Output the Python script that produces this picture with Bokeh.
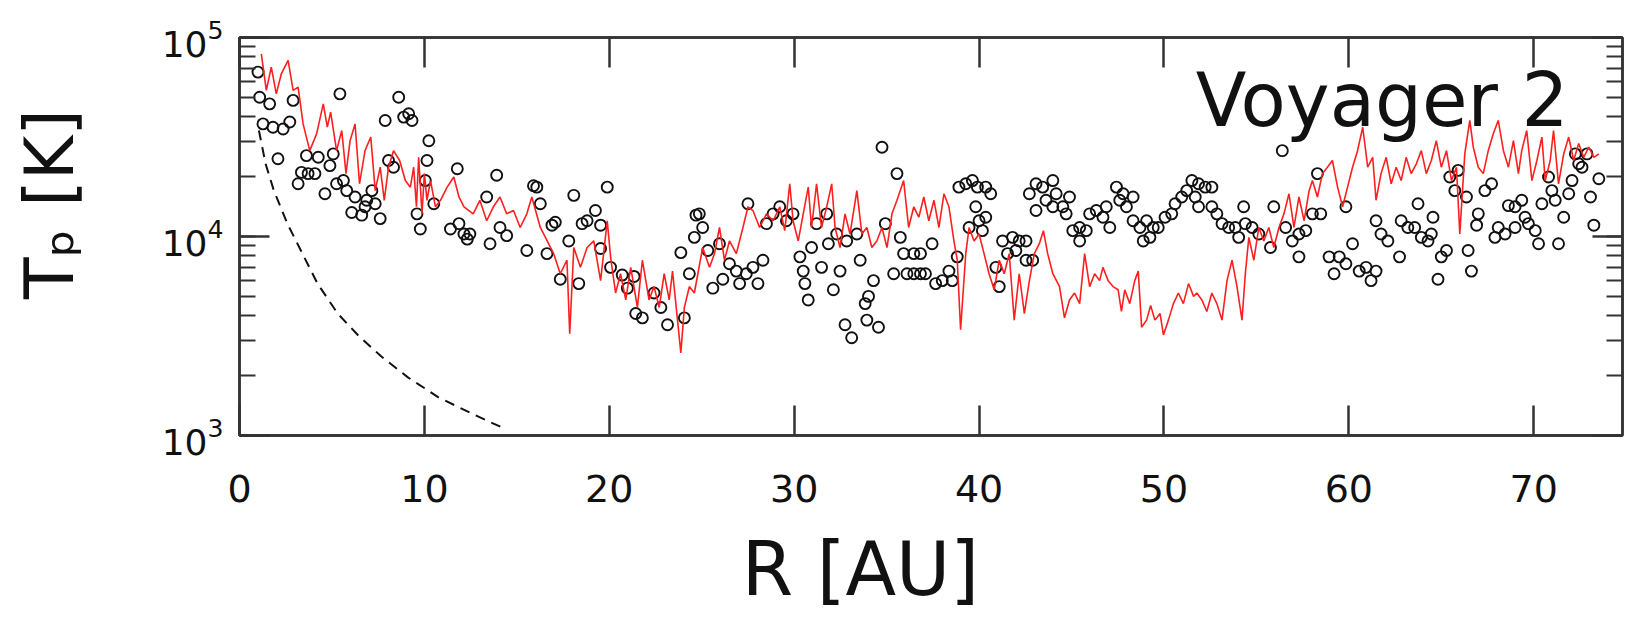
from bokeh.plotting import figure
from bokeh.models import (Range1d, LinearAxis, LogAxis, SingleIntervalTicker, LogTicker,
                          CustomJSTickFormatter, Label)
from bokeh.embed import file_html
from bokeh.resources import INLINE

# ---------------- data ----------------
# model (red line): R [AU], Tp [K]
red_r = [1.18, 1.45, 1.72, 1.99, 2.26, 2.63, 2.90, 3.17, 3.44, 3.80, 4.17, 4.53, 4.75, 4.93, 5.25,
         5.53, 5.76, 5.98, 6.25, 6.49, 6.79, 7.10, 7.34, 7.61, 7.83, 8.06, 8.33, 8.66, 8.97, 9.24,
         9.42, 9.57, 9.69, 9.87, 10.00, 10.14, 10.33, 10.60, 10.87, 11.23, 11.59, 11.87, 12.14,
         12.64, 13.00, 13.37, 13.73, 14.09, 14.45, 14.82, 15.18, 15.54, 15.81, 16.27, 16.99, 17.35,
         17.71, 17.86, 18.08, 18.44, 18.80, 19.16, 19.53, 19.89, 20.07, 20.34, 20.61, 20.89, 21.16,
         21.52, 21.79, 22.15, 22.42, 22.70, 22.97, 23.24, 23.42, 23.69, 23.87, 24.06, 24.33, 24.60,
         25.05, 25.42, 25.69, 25.96, 26.23, 26.50, 26.87, 27.23, 27.50, 27.77, 28.13, 28.50, 28.86,
         29.22, 29.49, 29.76, 29.94, 30.22, 30.49, 30.76, 30.94, 31.21, 31.48, 31.76, 32.03, 32.21,
         32.48, 32.75, 33.02, 33.39, 33.66, 33.93, 34.20, 34.47, 34.75, 35.02, 35.29, 35.56, 35.92,
         36.19, 36.47, 36.74, 37.01, 37.28, 37.56, 37.83, 38.10, 38.37, 38.64, 38.82, 39.00, 39.28,
         39.46, 39.73, 40.00, 40.27, 40.54, 40.82, 41.09, 41.36, 41.63, 41.90, 42.17, 42.45, 42.72,
         42.99, 43.26, 43.48, 43.71, 43.99, 44.35, 44.62, 44.89, 45.16, 45.44, 45.71, 45.98, 46.25,
         46.52, 46.70, 46.98, 47.25, 47.52, 47.70, 47.88, 48.15, 48.42, 48.61, 48.79, 49.06, 49.28,
         49.51, 49.79, 49.97, 50.24, 50.51, 50.78, 51.05, 51.33, 51.60, 51.78, 52.05, 52.32, 52.59,
         52.86, 53.14, 53.41, 53.68, 53.95, 54.22, 54.40, 54.59, 54.86, 55.13, 55.40, 55.67, 55.94,
         56.22, 56.49, 56.76, 57.03, 57.30, 57.58, 57.85, 58.03, 58.30, 58.57, 58.84, 59.11, 59.39,
         59.66, 59.93, 60.20, 60.47, 60.75, 61.02, 61.29, 61.47, 61.74, 62.02, 62.29, 62.56, 62.83,
         63.10, 63.37, 63.65, 63.92, 64.19, 64.46, 64.73, 65.00, 65.28, 65.55, 65.82, 66.00, 66.27,
         66.54, 66.73, 67.00, 67.27, 67.54, 67.81, 68.08, 68.36, 68.63, 68.90, 69.17, 69.35, 69.62,
         69.90, 70.17, 70.44, 70.62, 70.89, 71.07, 71.34, 71.62, 71.89, 72.16, 72.43, 72.70, 72.98,
         73.25, 73.52]
red_t = [82800, 54200, 71000, 52100, 65600, 76700, 54200, 56300, 36800, 27000, 32800, 46400, 35500,
         42200, 27000, 34100, 20700, 30300, 36800, 18400, 27000, 31600, 17000, 22300, 15200, 22300,
         27000, 24100, 19100, 17700, 22300, 14100, 25000, 13000, 20700, 15200, 19100, 14100, 15200,
         17700, 19900, 15800, 14100,
         13000, 15200, 12000, 14100, 15800, 13000, 13500, 11100, 13000, 15800, 11100, 8200, 6500,
         7600, 3250, 8800, 7000, 8800, 9500, 6000, 12000, 7900, 5200, 6500, 4800, 7000,
         4400, 7600, 4800, 5600, 4400, 6500, 4800, 6700, 3800, 2600, 4400, 5600, 5200,
         8800, 7000, 8200, 11100, 7600, 9500, 8200, 11100, 14100, 13500, 11100, 13000, 12000,
         14100, 10700, 18400, 12000, 9500, 13000, 17700, 11100, 18400, 11100, 14100, 18400, 11100,
         8800, 13000, 10300, 17000, 10300, 11100, 8800, 9500, 11100, 8800, 13000, 15200, 19100,
         11100, 14100, 12500, 15800, 12000, 15200, 11100, 16400, 14100, 9500, 7600, 3400, 8200,
         11100, 9500, 10300, 8200, 6500, 5400, 7600, 6500, 8200, 3800, 6500, 4100, 6000,
         8200, 9200, 10700, 8200, 6500, 5600, 3900, 4800, 5200, 4600, 8200, 5600, 6500,
         6000, 7000, 6000, 5600, 5400, 4200, 5400, 4600, 6000, 6700, 3500, 3800, 4500,
         3800, 4100, 3200, 3800, 4600, 5200, 4600, 5800, 5000, 5200, 4800, 4200, 5200,
         4600, 3800, 6000, 7600, 5600, 3800, 6500, 9900, 7600, 11100, 9500, 11100, 8800,
         11100, 13000, 16400, 11100, 15800, 12000, 17000, 19100, 15800, 20700, 22300, 24100, 17700,
         14100, 17700, 22300, 27000, 35400, 22300, 25000, 15200, 20700, 25000, 18400, 22300, 19100,
         25000, 20700, 23200, 27000, 20700, 24100, 30300, 22300, 27000, 19100, 22300, 10300, 26000,
         38300, 28100, 22300, 20700, 27000, 32800, 38300, 27000, 22300, 30300, 20700, 27000, 34100,
         19100, 24100, 31600, 19100, 24100, 34100, 18400, 26000, 31600, 24100, 29300, 25000, 28100,
         25000, 26000]

# Voyager 2 observations (circles): R [AU], Tp [K]
obs_r = [1.00, 1.09, 1.27, 1.63, 1.81, 2.08, 2.36, 2.72, 2.90, 3.17, 3.35, 3.62, 3.71, 4.08, 4.26,
         4.62, 4.89, 5.07, 5.25, 5.43, 5.62, 5.80, 6.07, 6.25, 6.61, 6.79, 6.88, 7.16, 7.34, 7.61,
         7.88, 8.06, 8.33, 8.61, 8.88, 9.15, 9.33, 9.60, 9.78, 10.05, 10.14, 10.24, 10.51, 11.41,
         11.78, 11.87, 12.14, 12.32,
         12.46, 13.37, 13.55, 13.91, 14.09, 14.45, 15.54, 15.90, 16.08, 16.27, 16.63, 16.90, 17.08,
         17.35, 17.81, 18.08, 18.35, 18.53, 18.80, 19.25, 19.53, 19.53, 19.89, 20.07, 20.70, 20.98,
         21.34, 21.43, 21.79, 22.42, 22.79, 23.15, 23.87, 24.06, 24.33, 24.60, 24.69,
         24.87, 25.05, 25.33, 25.60, 25.96, 26.14, 26.50, 26.87, 27.05, 27.41, 27.50, 27.77, 28.04,
         28.31, 28.50, 28.86, 29.22, 29.58, 29.94, 30.31, 30.49, 30.58, 30.76, 30.94, 31.21, 31.48,
         31.76, 31.85, 32.12, 32.30, 32.48, 32.75, 32.84, 33.11, 33.39, 33.57, 33.84, 33.93, 34.02,
         34.29, 34.56, 34.75, 34.93, 35.38, 35.56, 35.74, 35.92, 36.10, 36.47, 36.47, 36.83, 36.83,
         37.10, 37.46, 37.65, 38.01, 38.37, 38.55, 38.82, 38.91, 39.28, 39.46, 39.64, 39.82, 39.91,
         40.00, 40.18, 40.36, 40.36, 40.63, 40.91, 41.09, 41.27, 41.54, 41.81, 41.99, 42.17, 42.54,
         42.54, 42.72, 42.90, 43.08, 43.08, 43.44, 43.62, 43.99, 43.99, 44.17, 44.53, 44.71, 44.89,
         45.07, 45.44, 45.44, 45.80, 45.98, 46.34, 46.70, 46.88, 47.07, 47.43, 47.61, 47.79, 47.97,
         48.33, 48.33, 48.70, 48.88, 49.06, 49.24, 49.42,
         49.69, 50.06, 50.42, 50.60, 50.96, 51.23, 51.51, 51.69, 51.87, 51.87, 52.23, 52.59, 52.59,
         52.86, 53.14, 53.50, 53.86, 54.04, 54.31, 54.40, 54.77, 55.13, 55.76, 55.94, 56.40, 56.58,
         56.94, 57.30, 57.30, 57.67, 58.03, 58.30, 58.48, 58.93, 59.20, 59.48, 59.84, 59.84, 60.20,
         60.56, 60.93, 61.20, 61.47, 61.47,
         61.74, 62.11, 62.74, 62.83, 63.19, 63.56, 63.74, 63.92, 64.28, 64.46, 64.55, 64.82, 65.00,
         65.28, 65.46, 65.73, 65.91, 66.36, 66.45, 66.63, 66.91, 67.00, 67.36, 67.72, 67.90, 68.08,
         68.45, 68.63, 68.99, 68.99, 69.35, 69.53, 69.71, 70.08, 70.26, 70.44, 70.80, 70.98, 71.16,
         71.34, 71.62, 71.89, 72.07, 72.25, 72.43, 72.61, 72.88, 73.07, 73.25, 73.52]
obs_t = [67000, 50100, 36800, 46400, 35400, 24600, 34700, 37600, 48300, 18400, 21000, 25500, 20700,
         20700, 25000, 16400, 22700, 26000, 18400, 52100, 19100, 17000, 13200, 15800, 12800, 14100,
         15200, 17000, 14600, 12300, 38300, 24100, 22300, 50100, 39800, 41400, 38300, 13000, 10900,
         19100, 24100, 30300, 14600, 10900, 21900, 11600, 10300, 9700,
         10300, 15800, 9200, 20300, 11100, 10100, 8500, 18000, 17700, 14600, 8200, 11400, 11800,
         6100, 9500, 16100, 5800, 11600, 12000, 13500, 11400, 8700, 17700, 7000, 6400, 5500,
         6300, 4100, 3900, 5200, 4400, 3600, 8300, 3900, 6500, 9900, 12800,
         13000, 11100, 8500, 5500, 9200, 6100, 7300, 6700, 5800, 6500, 14600, 7000, 5800,
         7600, 11600, 13000, 14100, 12000, 13000, 7900, 6700, 5800, 4800, 8800, 11600, 7000,
         13000, 9200, 5400, 10300, 6700, 3600, 9500, 3100, 10300, 7600, 4600, 3800, 5000,
         6000, 3500, 28100, 11600, 6500, 20700, 9900, 8200, 6500, 8200, 6500, 8200, 6500,
         6500, 9200, 5800, 6000, 6700, 6000, 7900, 17700, 18400, 11100, 19100, 14100, 17700,
         12000, 10700, 17700, 12500, 16400, 7000, 5600, 9500, 8200, 9900, 8500, 9500, 9500,
         7600, 16400, 7600, 18400, 13500, 17700, 15200, 19100, 14100, 16400, 14100, 13000, 15800,
         10700, 9500, 11100, 10700, 13000, 13500, 12500, 14100, 11100, 17700, 15200, 16400, 14100,
         15800, 12000, 11100, 9500, 12000, 9900, 11100,
         11100, 12500, 13000, 14600, 15800, 17000, 19100, 15800, 18400, 14100, 17700, 17700, 14100,
         13000, 11600, 11100, 11100, 9900, 14100, 11600, 11100, 10300, 8800, 14100, 27000, 11100,
         9500, 10300, 7900, 10700, 13000, 20700, 13000, 7900, 6500, 7900, 7300, 14100, 9200,
         6700, 7000, 6000, 6700, 12000,
         10300, 9500, 7900, 12000, 11100, 11100, 14600, 9900, 9500, 10300, 12500, 6100, 7900,
         8500, 19900, 17000, 21500, 15800, 8500, 6700, 11400, 13000, 17000, 18400, 9900, 11100,
         10300, 14300, 14100, 11100, 15200, 12500, 11600, 10700, 9200, 14600, 19900, 17000, 15200,
         9200, 12500, 16400, 19100, 26000, 23200, 22300, 26000, 15800, 11400, 19500]

# adiabatic-cooling curve (dashed)
adi_r = [1.05, 1.41, 1.86, 2.59, 3.32, 4.22, 5.31, 6.40, 7.66, 9.11, 10.74, 12.55, 14.36]
adi_t = [34100, 23200, 17000, 11600, 8500, 5800, 4100, 3200, 2500, 1960, 1560, 1290, 1080]

x_tick_step = 10
x_limits = (0, 74.8)
y_limits = (1e3, 1e5)

title_text = "Voyager 2"
title_pos = (71.88, 48600)      # right end / vertical centre, data units
x_label = "R [AU]"
y_label = "T\u209a [K]"          # T with subscript p

# ---------------- styling ----------------
FONT = "DejaVu Sans"
AX = "#333333"
TXT = "#111111"
NBSP = "\u00a0"

p = figure(width=1630, height=620,
           x_range=Range1d(*x_limits), y_range=Range1d(*y_limits),
           y_axis_type="log", output_backend="svg", toolbar_location=None,
           min_border_left=239, min_border_right=8, min_border_top=37, min_border_bottom=185,
           background_fill_color="white", border_fill_color="white")
p.outline_line_color = AX
p.outline_line_width = 2.5
p.xgrid.grid_line_color = None
p.ygrid.grid_line_color = None

bottom = p.below[0]
left = p.left[0]

blank = CustomJSTickFormatter(code="return ''")
top = LinearAxis(formatter=blank)
right = LogAxis(formatter=blank)
p.add_layout(top, "above")
p.add_layout(right, "right")

for ax in (bottom, top):
    ax.ticker = SingleIntervalTicker(interval=x_tick_step, num_minor_ticks=0)
for ax in (left, right):
    ax.ticker = LogTicker(num_minor_ticks=10)

for ax in (bottom, left, top, right):
    ax.axis_line_color = AX
    ax.axis_line_width = 2.5
    ax.major_tick_in = 30
    ax.major_tick_out = 0
    ax.major_tick_line_color = AX
    ax.major_tick_line_width = 2.5
    ax.minor_tick_in = 16
    ax.minor_tick_out = 0
    ax.minor_tick_line_color = AX
    ax.minor_tick_line_width = 2.2
    ax.major_label_text_font = FONT
    ax.major_label_text_color = TXT

for ax in (top, right):
    ax.major_label_text_font_size = "2px"
    ax.major_label_standoff = 0

bottom.minor_tick_line_color = None
top.minor_tick_line_color = None
bottom.major_label_text_font_size = "38px"
bottom.major_label_standoff = 39
left.major_label_text_font_size = "36px"
left.major_label_standoff = 16

bottom.axis_label = x_label + NBSP * 6
bottom.axis_label_text_font = FONT
bottom.axis_label_text_font_size = "74px"
bottom.axis_label_text_font_style = "normal"
bottom.axis_label_text_color = TXT
bottom.axis_label_standoff = 21

left.axis_label = NBSP * 3 + y_label
left.axis_label_text_font = FONT
left.axis_label_text_font_size = "68px"
left.axis_label_text_font_style = "normal"
left.axis_label_text_color = TXT
left.axis_label_standoff = 70

# data
p.scatter(obs_r, obs_t, marker="circle", size=11, fill_color=None,
          line_color=TXT, line_width=1.9)
p.line(red_r, red_t, line_color="#ff1f1f", line_width=1.6)
p.line(adi_r, adi_t, line_color=TXT, line_width=2, line_dash="10 7")

p.add_layout(Label(x=title_pos[0], y=title_pos[1], text=title_text,
                   text_font=FONT, text_font_size="74px", text_align="right",
                   text_baseline="middle", text_color=TXT))

open("out.html", "w").write(file_html(p, INLINE))
